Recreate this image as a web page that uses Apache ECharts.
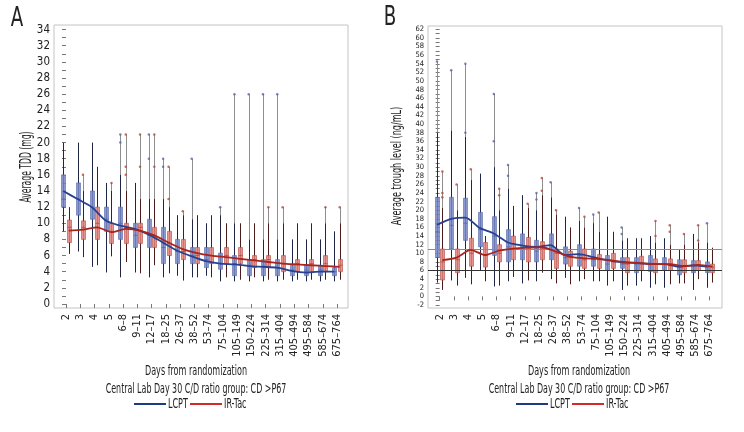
<!DOCTYPE html>
<html>
<head>
<meta charset="utf-8">
<script src="https://cdn.jsdelivr.net/npm/echarts@6/dist/echarts.min.js"></script>
<style>
  html, body { margin: 0; padding: 0; background: #fff; }
  #chart { width: 744px; height: 432px; }
</style>
</head>
<body>
<div id="chart"></div>
<script>
// categories (days from randomization)
var categories = ['2', '3', '4', '5', '6\u20138', '9\u201311', '12\u201317', '18\u201325', '26\u201337', '38\u201352', '53\u201374',
  '75\u2013104', '105\u2013149', '150\u2013224', '225\u2013314', '315\u2013404', '405\u2013494', '495\u2013584', '585\u2013674', '675\u2013764'];

// tick labels
var aTickLabels = [0, 2, 4, 6, 8, 10, 12, 14, 16, 18, 20, 22, 24, 26, 28, 30, 32, 34];
var bTickLabels = [-2, 0, 2, 4, 6, 8, 10, 12, 14, 16, 18, 20, 22, 24, 26, 28, 30, 32, 34, 36, 38, 40, 42, 44, 46, 48, 50, 52, 54, 56, 58, 60, 62];

// Panel A - Average TDD (mg), LCPT
var aLcptLow  = [9, 6.5, 4.6, 3.9, 3.3, 3.9, 3.3, 3.3, 3.5, 3.3, 3.5, 2.8, 2.8, 2.8, 2.8, 2.8, 2.8, 2.8, 2.8, 2.8];
var aLcptQ1   = [12, 11, 10.5, 9, 8, 7, 7, 5, 5, 5, 4.5, 4.3, 3.5, 3.5, 3.5, 3.5, 3.5, 3.5, 3.5, 3.5];
var aLcptMed  = [13, 13, 12, 10.5, 10, 8.5, 8.5, 7, 6.5, 6, 5.5, 5, 5, 4.8, 4.7, 4.5, 4.2, 4.2, 4.2, 4];
var aLcptQ3   = [16, 15, 14, 12, 12, 10, 10.5, 9.5, 8, 7, 7, 6.3, 6, 5.5, 5.5, 5.5, 4.8, 4.8, 4.8, 4.5];
var aLcptHigh = [20, 20, 20, 15, 16, 15, 13, 13, 11, 10.5, 10, 11, 10, 8, 8, 8, 8, 8, 8, 9];
var aLcptOut  = [[], [], [], [], [20, 21], [], [18, 21], [17, 18], [], [18], [], [12], [26], [26], [26], [26], [], [], [], []];
var aLcptMean = [14, 13, 12, 10.3, 9.7, 9.3, 8.6, 7.6, 6.6, 5.9, 5.3, 5.0, 4.9, 4.7, 4.6, 4.5, 4.1, 3.9, 4.0, 4.0];

// Panel A - Average TDD (mg), IR-Tac
var aTacLow  = [6.2, 5.8, 4.8, 5.9, 5.2, 3.8, 4.8, 3.8, 2.9, 3.3, 3.3, 3.3, 3, 3.3, 3, 3, 3, 3, 3, 3];
var aTacQ1   = [7.6, 8, 8, 7.5, 7.5, 7.5, 7, 6, 5.5, 5, 5, 5, 5, 4.5, 4.5, 4, 4, 4, 4, 4];
var aTacMed  = [9.5, 9.5, 10, 9, 9.5, 9.5, 8.5, 7.5, 6.5, 6, 6, 6, 6, 5.5, 5.5, 5, 5, 5, 5, 4.8];
var aTacQ3   = [10.4, 10.3, 12, 10, 10, 10, 9.5, 9, 8, 7, 7, 7, 7, 6, 6, 6, 5.5, 5.5, 6, 5.5];
var aTacHigh = [12, 14, 17, 14, 14, 13, 13, 12, 11, 11, 11, 10, 10, 10, 10, 10, 10, 10, 10, 10];
var aTacOut  = [[], [16], [], [15], [16, 17, 21], [17, 21], [17, 21], [13, 17], [11.5], [], [], [], [], [], [12], [12], [], [], [12], [12]];
var aTacMean = [9.1, 9.2, 9.5, 8.9, 9.3, 9.1, 8.5, 7.6, 6.8, 6.3, 6.0, 5.8, 5.6, 5.4, 5.2, 5.0, 4.9, 4.8, 4.7, 4.6];

// Panel B - Average trough level (ng/mL), LCPT
var bLcptLow  = [3.2, 3.7, 4.3, 6, 2.3, 3.5, 3, 3.5, 4, 4.3, 3.5, 3.5, 2.5, 1.5, 2.5, 2, 2, 3, 1.5, 2];
var bLcptQ1   = [9, 11, 13, 11.5, 9.5, 8, 8.5, 8, 8.5, 7.5, 7, 7, 6, 6.5, 5.5, 5.8, 6, 5, 5.5, 5.5];
var bLcptMed  = [15, 16.5, 17, 15.5, 14, 11.5, 11, 10.5, 11.5, 9, 9.5, 8.5, 7.5, 7.5, 7.5, 7.5, 7.5, 6.8, 7, 6.8];
var bLcptQ3   = [23, 23, 22.8, 19.5, 18.5, 15.5, 14.5, 13, 14.5, 11.5, 12, 11, 9.5, 9, 9, 9.5, 9, 8.5, 8.3, 8];
var bLcptHigh = [38, 38.5, 37, 28.5, 30, 25, 23.5, 20, 23, 18.5, 17.5, 17, 18.5, 13, 13.5, 14, 13.5, 11, 14.5, 12.5];
var bLcptOut  = [[54.5], [52.5], [38, 54], [], [36, 47], [28, 30.5], [], [22.5, 24], [26.5], [], [20.5], [19], [], [14.5, 16], [], [], [], [], [], [17]];
var bLcptMean = [16.6, 18, 18.3, 15.9, 14.6, 12.5, 11.8, 11.5, 11.9, 9.6, 9.8, 9.1, 8.4, 7.9, 7.8, 7.5, 7.5, 6.9, 7.2, 6.9];

// Panel B - Average trough level (ng/mL), IR-Tac
var bTacLow  = [1.5, 2.5, 2.8, 3.5, 2.5, 4.5, 3.7, 5.5, 3, 2.8, 4, 3.5, 3.5, 2.5, 3.5, 2.8, 2.8, 3, 4, 3.2];
var bTacQ1   = [3.8, 5.5, 7, 6.8, 8, 8.5, 8, 8.5, 6.5, 7, 6.5, 6.5, 6.5, 5.5, 6, 5.5, 6, 5.5, 6, 5.5];
var bTacMed  = [8, 8.5, 10, 9.5, 10, 11, 11, 11, 10, 9, 8.5, 8.5, 8, 7.5, 7.5, 7.5, 7.5, 7, 7.3, 6.8];
var bTacQ3   = [11, 11, 13.5, 12.5, 12, 14, 13.7, 12.7, 11, 10.5, 11, 9.7, 10, 9, 9.3, 8.7, 8.7, 8.5, 8.3, 7.5];
var bTacHigh = [20.5, 20, 27, 14, 20, 21, 20.5, 23.5, 19, 16, 16, 15, 15, 13.5, 13.5, 12.5, 12, 12, 12.5, 11.3];
var bTacOut  = [[23, 24, 29], [26], [29.5], [], [23.5, 25], [], [21.5], [24.5, 27.5], [20], [], [18.5], [19.5], [], [], [], [14, 17.5], [15, 16.5], [14.5], [13, 16.5], []];
var bTacMean = [8.4, 9.0, 10.8, 9.6, 10.6, 11.1, 11.3, 11.4, 10.4, 9.2, 8.8, 8.7, 8.3, 7.9, 7.7, 7.5, 7.5, 7.0, 7.3, 6.9];

var refLines = [11, 6];

var FONT = '"DejaVu Sans Condensed", "Liberation Sans Narrow", sans-serif';
var OFF = 0.19; // half distance between the two boxes, in category units

var blue = { box: 'rgba(120,136,200,0.85)', edge: '#5566aa', whisker: '#1e2545', line: '#27408f', legend: '#1f3b80' };
var red = { box: 'rgba(226,130,124,0.85)', edge: '#b5483f', whisker: '#4a1c1c', line: '#a8241c', legend: '#d42a2a' };

function range(a, b, step) {
  var r = [];
  for (var v = a; v <= b + 1e-9; v += step) r.push(v);
  return r;
}

function boxData(low, q1, med, q3, high, out, off) {
  return low.map(function (v, i) {
    return [i + off, v, q1[i], med[i], q3[i], high[i], Math.max.apply(null, [high[i]].concat(out[i]))];
  });
}
function outData(out, off) {
  var r = [];
  out.forEach(function (vals, i) { vals.forEach(function (v) { r.push([i + off, v]); }); });
  return r;
}
function meanData(mean, off) {
  return mean.map(function (v, i) { return [i + off, v]; });
}

function boxRender(col) {
  return function (params, api) {
    var x = api.value(0);
    var pLow = api.coord([x, api.value(1)]);
    var pQ1 = api.coord([x, api.value(2)]);
    var pMed = api.coord([x, api.value(3)]);
    var pQ3 = api.coord([x, api.value(4)]);
    var pHigh = api.coord([x, api.value(5)]);
    var pOut = api.coord([x, api.value(6)]);
    var w = api.size([0.28, 0])[0];
    var cx = Math.round(pQ1[0]) + 0.5;
    return {
      type: 'group',
      children: [
        { type: 'line', shape: { x1: cx, y1: pHigh[1], x2: cx, y2: pOut[1] }, style: { stroke: '#8e8e8e', lineWidth: 1 } },
        { type: 'line', shape: { x1: cx, y1: pLow[1], x2: cx, y2: pHigh[1] }, style: { stroke: col.whisker, lineWidth: 1 } },
        { type: 'rect', shape: { x: cx - w / 2, y: pQ3[1], width: w, height: pQ1[1] - pQ3[1] },
          style: { fill: col.box, stroke: col.edge, lineWidth: 0.6 } },
        { type: 'line', shape: { x1: cx - w / 2, y1: pMed[1], x2: cx + w / 2, y2: pMed[1] }, style: { stroke: col.edge, lineWidth: 0.8 } }
      ]
    };
  };
}

function yAxisFor(gi, min, max, labels, ticks, fontSize) {
  return {
    type: 'value', gridIndex: gi, min: min, max: max,
    axisLine: { show: false },
    axisTick: { show: true, length: 4, customValues: ticks, lineStyle: { color: '#777' } },
    axisLabel: { customValues: labels, showMinLabel: true, showMaxLabel: true, hideOverlap: false,
      fontFamily: FONT, fontSize: fontSize, color: '#222', margin: 4 },
    splitLine: { show: false }
  };
}

function xAxisFor(gi, min, max) {
  return {
    type: 'value', gridIndex: gi, min: min, max: max,
    axisLine: { show: false },
    axisTick: { show: true, length: 4, customValues: range(0, categories.length - 1, 1), lineStyle: { color: '#777' } },
    axisLabel: {
      customValues: range(0, categories.length - 1, 1), rotate: 90, margin: 6,
      showMinLabel: true, showMaxLabel: true, hideOverlap: false,
      fontFamily: FONT, fontSize: 11, color: '#222',
      formatter: function (v) { return categories[Math.round(v)]; }
    },
    splitLine: { show: false }
  };
}

function panelSeries(gi, sets) {
  var series = [];
  [[blue, -OFF, sets.lcpt], [red, OFF, sets.tac]].forEach(function (g) {
    var s = g[2];
    series.push({
      type: 'custom', xAxisIndex: gi, yAxisIndex: gi, z: 2,
      renderItem: boxRender(g[0]),
      encode: { x: 0, y: [1, 2, 3, 4, 5, 6] },
      data: boxData(s.low, s.q1, s.med, s.q3, s.high, s.out, g[1]),
      silent: true
    });
    series.push({
      type: 'scatter', xAxisIndex: gi, yAxisIndex: gi, z: 3,
      symbolSize: 2.5, itemStyle: { color: g[0].edge },
      data: outData(s.out, g[1]), silent: true
    });
  });
  [['LCPT', blue, -OFF, sets.lcpt], ['IR-Tac', red, OFF, sets.tac]].forEach(function (g, k) {
    var line = {
      name: g[0], type: 'line', xAxisIndex: gi, yAxisIndex: gi, z: 5,
      smooth: 0.25, symbol: 'none', silent: true,
      lineStyle: { color: g[1].line, width: 1.8 },
      data: meanData(g[3].mean, g[2])
    };
    if (sets.refs && k === 0) {
      line.markLine = {
        silent: true, symbol: 'none', label: { show: false },
        data: [
          { yAxis: sets.refs[0], lineStyle: { color: '#8a8a8a', width: 1.2, type: 'solid' } },
          { yAxis: sets.refs[1], lineStyle: { color: '#333', width: 1.2, type: 'solid' } }
        ]
      };
    }
    series.push(line);
  });
  return series;
}

function label(text, x, y, size, sq, rot) {
  return { type: 'text', x: x, y: y, rotation: rot || 0, scaleX: sq,
    style: { text: text, align: 'center', verticalAlign: 'middle', fontFamily: FONT, fontSize: size, fill: '#222' } };
}

// legend drawn as line swatches + text (LCPT / IR-Tac)
function legendItems(x0) {
  var txt = function (t, x) {
    return { type: 'text', x: x, y: 404, scaleX: 0.64,
      style: { text: t, align: 'left', verticalAlign: 'middle', fontFamily: FONT, fontSize: 14, fill: '#222' } };
  };
  return [
    { type: 'rect', shape: { x: x0, y: 403, width: 32, height: 2 }, style: { fill: blue.legend } },
    txt('LCPT', x0 + 34),
    { type: 'rect', shape: { x: x0 + 56, y: 403, width: 32, height: 2 }, style: { fill: red.legend } },
    txt('IR-Tac', x0 + 90)
  ];
}

var chart = echarts.init(document.getElementById('chart'), null, { renderer: 'canvas' });

chart.setOption({
  animation: false,
  backgroundColor: '#fff',
  grid: [
    { left: 54, top: 25, width: 294, height: 283, show: true, borderColor: '#c4c4c4', borderWidth: 1 },
    { left: 428, top: 26, width: 294, height: 282, show: true, borderColor: '#c4c4c4', borderWidth: 1 }
  ],
  xAxis: [xAxisFor(0, -0.84, 19.77), xAxisFor(1, -0.82, 19.87)],
  yAxis: [
    yAxisFor(0, -0.5, 34.57, aTickLabels, range(0, 34, 1), 11.5),
    yAxisFor(1, -2.7, 62.77, bTickLabels, range(-2, 62, 1), 7.5)
  ],
  graphic: [
    label('A', 17, 19, 27, 0.75),
    label('B', 390, 18, 27, 0.75),
    label('Average TDD (mg)', 27, 167, 15.5, 0.55, Math.PI / 2),
    label('Average trough level (ng/mL)', 397, 166, 14.5, 0.62, Math.PI / 2),
    label('Days from randomization', 196, 371, 14, 0.64),
    label('Days from randomization', 579, 371, 14, 0.64),
    label('Central Lab Day 30 C/D ratio group: CD >P67', 196, 389, 14, 0.63),
    label('Central Lab Day 30 C/D ratio group: CD >P67', 579, 389, 14, 0.63)
  ].concat(legendItems(134), legendItems(516)),
  series: panelSeries(0, {
    lcpt: { low: aLcptLow, q1: aLcptQ1, med: aLcptMed, q3: aLcptQ3, high: aLcptHigh, out: aLcptOut, mean: aLcptMean },
    tac: { low: aTacLow, q1: aTacQ1, med: aTacMed, q3: aTacQ3, high: aTacHigh, out: aTacOut, mean: aTacMean }
  }).concat(panelSeries(1, {
    lcpt: { low: bLcptLow, q1: bLcptQ1, med: bLcptMed, q3: bLcptQ3, high: bLcptHigh, out: bLcptOut, mean: bLcptMean },
    tac: { low: bTacLow, q1: bTacQ1, med: bTacMed, q3: bTacQ3, high: bTacHigh, out: bTacOut, mean: bTacMean },
    refs: refLines
  }))
});
</script>
</body>
</html>
